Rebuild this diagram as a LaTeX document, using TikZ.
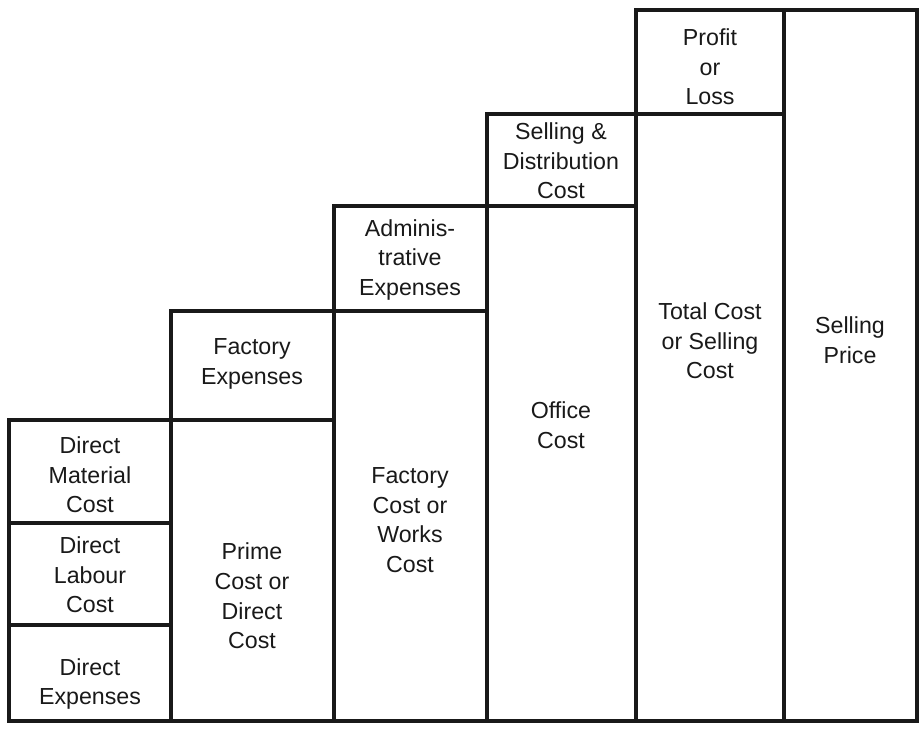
\documentclass[tikz,border=0pt]{standalone}
\usepackage{fontspec}
\setmainfont{Liberation Sans}
\usetikzlibrary{positioning}

\begin{document}
\begin{tikzpicture}[
  x=0.5pt, y=-0.5pt,
  font=\fontsize{11.6}{14.8}\selectfont,
  cellbox/.style={draw=black!90, line width=1.7pt, line join=miter},
  lbl/.style={align=center, inner sep=0pt, text=black!90},
]
\useasboundingbox (0,0) rectangle (922,733);
%% Six columns stepping up to the right; each column's split line sits
%% level with the top of the column before it.
\def\YB{721}

%% ---- the stairs ----
\foreach \xl/\xr/\yt/\yd in {9/171/420/523, 171/334/311/420,
    334/487/206/311, 487/636/114/206, 636/784/10/114} {
  \draw[cellbox] (\xl,\yt) rectangle (\xr,\YB) (\xl,\yd) -- (\xr,\yd);
}
\draw[cellbox] (9,625) -- (171,625);
\draw[cellbox] (784,10) rectangle (917,\YB);

%% ---- column 1: the direct costs ----
\node[lbl] (matcost) at (90,475) {Direct\\Material\\Cost};
\node[lbl] (labcost) at (90,575) {Direct\\Labour\\Cost};
\node[lbl] (direxp)  at (90,684) {Direct\\Expenses};

%% ---- columns 2 to 6 ----
\node[lbl] (factexp)  at (252,364) {Factory\\Expenses};
\node[lbl] (primecost) at (252,596) {Prime\\Cost or\\Direct\\Cost};
\node[lbl] (adminexp) at (410,260) {Adminis-\\trative\\Expenses};
\node[lbl] (workcost) at (410,520) {Factory\\Cost or\\Works\\Cost};
\node[lbl] (selldist) at (561,161) {Selling \&\\Distribution\\Cost};
\node[lbl] (offcost)  at (561,425) {Office\\Cost};
\node[lbl] (profit)   at (710,67)  {Profit\\or\\Loss};
\node[lbl] (totcost)  at (710,341) {Total Cost\\or Selling\\Cost};
\node[lbl] (sellprice) at (850,340) {Selling\\Price};
\end{tikzpicture}
\end{document}
